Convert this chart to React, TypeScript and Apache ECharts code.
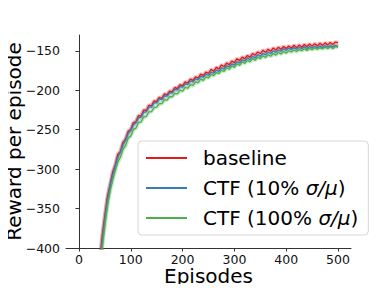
import React, { useEffect, useRef } from "react";
import * as echarts from "echarts";

const episodes = [
  40, 45, 50, 55, 60, 65, 70, 75, 80, 85, 90, 95, 100, 105, 110, 115, 120, 125, 130, 135,
  140, 145, 150, 155, 160, 165, 170, 175, 180, 185, 190, 195, 200, 205, 210, 215, 220, 225, 230, 235,
  240, 245, 250, 255, 260, 265, 270, 275, 280, 285, 290, 295, 300, 305, 310, 315, 320, 325, 330, 335,
  340, 345, 350, 355, 360, 365, 370, 375, 380, 385, 390, 395, 400, 405, 410, 415, 420, 425, 430, 435,
  440, 445, 450, 455, 460, 465, 470, 475, 480, 485, 490, 495, 500,
];

const baseline = [
  -418, -384, -359, -335, -320, -304, -295, -281, -278, -266, -262, -252, -250, -241, -240, -232, -233, -225, -226, -219,
  -220, -213.5, -214.5, -209, -210.5, -204.5, -206, -201, -202, -196.5, -198, -193, -194.5, -189.5, -191, -186, -187.5, -183, -184.5, -179.5,
  -181.5, -177, -178.5, -173.5, -176, -171, -173, -168, -170, -165.5, -167.5, -163, -165, -160, -162.5, -158, -160, -156, -158, -153.5,
  -155.5, -151.5, -153.5, -149.5, -152, -148, -150.5, -146.5, -149, -145.5, -148, -144.5, -147, -144, -146.5, -143, -146, -142.5, -145.5, -142,
  -144.5, -141.5, -144, -141, -143.5, -140.5, -143, -140, -142.5, -139.5, -142, -139, -140,
];

const ctf10 = [
  -425, -390, -362, -339, -321, -308, -296, -285, -278, -269, -263, -255, -251, -244, -241, -235, -234, -228, -227, -221.5,
  -221, -216, -216, -211, -212, -207, -207.5, -203, -203.5, -199, -199.5, -195.5, -196, -192, -192.5, -188.5, -189.5, -185.5, -186.5, -182.5,
  -183.5, -179.5, -181, -177, -178.5, -174.5, -176, -171.5, -173, -169, -170.5, -166.5, -168, -164, -165.5, -161.5, -163, -159, -161, -157,
  -159, -155, -157, -153.5, -155, -151.5, -153.5, -150, -152, -149, -150.5, -147.5, -149.5, -146.5, -148.5, -146, -148, -145.5, -147.5, -145,
  -147, -144.5, -146.5, -144.5, -146, -144, -146, -143.5, -145.5, -143.5, -145, -143.5, -144.5,
];

const ctf100 = [
  -432, -398, -370, -346, -328, -314, -302, -291, -285, -275, -270, -261, -258, -250, -248, -241, -240, -234, -233, -227.5,
  -227, -222, -221.5, -217, -217, -212, -212.5, -208, -208.5, -204, -204.5, -200, -201, -196.5, -197.5, -193, -194, -189.5, -190.5, -186,
  -187.5, -183, -184.5, -180, -181.5, -177.5, -179, -174.5, -176, -171.5, -173.5, -169, -171, -166.5, -168.5, -164, -166, -162, -164, -160,
  -162, -158, -160, -156.5, -158.5, -155, -157, -153.5, -155.5, -152, -154, -151, -153, -150, -151.5, -149, -151, -148.5, -150, -147.5,
  -149.5, -147, -148.5, -146.5, -148, -146, -147.5, -145.5, -147, -145, -147, -144.5, -145.5,
];

const seriesNames = ["baseline", "CTF (10% σ/μ)", "CTF (100% σ/μ)"];
const seriesData = [baseline, ctf10, ctf100];
const seriesColors = ["#e41a1c", "#377eb8", "#4daf4a"];
const xTicks = [0, 100, 200, 300, 400, 500];
const yTicks = [-400, -350, -300, -250, -200, -150];

const FONT = "DejaVu Sans";
const minus = (v: number) => String(v).replace("-", "\u2212");

export default function App() {
  const ref = useRef<HTMLDivElement>(null);
  useEffect(() => {
    if (!ref.current) return;
    const chart = echarts.init(ref.current, undefined, { renderer: "svg" });
    const series: any[] = [];
    seriesNames.forEach((name, i) => {
      const pts = episodes.map((e, k) => [e, seriesData[i][k]]);
      series.push({
        name: name + " band",
        type: "line",
        data: pts,
        showSymbol: false,
        symbol: "none",
        color: seriesColors[i],
        lineStyle: { width: 4, opacity: 0.3, color: seriesColors[i] },
        silent: true,
        z: 2,
      });
      series.push({
        name,
        type: "line",
        data: pts,
        showSymbol: false,
        symbol: "none",
        color: seriesColors[i],
        lineStyle: { width: 1.3, color: seriesColors[i] },
        z: 3,
      });
    });
    chart.setOption({
      animation: false,
      textStyle: { fontFamily: FONT },
      grid: { left: 66, top: 35, right: 39, bottom: 44, containLabel: false, outerBoundsMode: "none" },
      xAxis: {
        type: "value",
        min: -25,
        max: 525,
        name: "Episodes",
        nameLocation: "middle",
        nameGap: 18,
        nameMoveOverlap: false,
        nameTextStyle: { fontSize: 20, color: "#000", fontFamily: FONT, verticalAlign: "top" },
        splitLine: { show: false },
        axisLine: { show: true, lineStyle: { color: "#333", width: 1 } },
        axisTick: { show: true, inside: false, length: 3.5, customValues: xTicks, lineStyle: { color: "#333" } },
        axisLabel: {
          customValues: xTicks,
          fontSize: 12.5,
          color: "#111",
          margin: 5,
          fontFamily: FONT,
          formatter: (v: number) => minus(v),
        },
      },
      yAxis: {
        type: "value",
        min: -400,
        max: -130,
        name: "Reward per episode",
        nameLocation: "middle",
        nameRotate: 90,
        nameGap: 42,
        nameMoveOverlap: false,
        nameTextStyle: { fontSize: 20, color: "#000", fontFamily: FONT, verticalAlign: "bottom" },
        splitLine: { show: false },
        axisLine: { show: true, lineStyle: { color: "#333", width: 1 } },
        axisTick: { show: true, inside: false, length: 3.5, customValues: yTicks, lineStyle: { color: "#333" } },
        axisLabel: {
          customValues: yTicks,
          fontSize: 12.5,
          color: "#111",
          margin: 6,
          fontFamily: FONT,
          formatter: (v: number) => minus(v),
        },
      },
      legend: {
        orient: "vertical",
        left: 138,
        top: 141,
        padding: [7, 10, 7, 8],
        itemGap: 10,
        itemWidth: 41,
        itemHeight: 2,
        icon: "rect",
        backgroundColor: "rgba(255,255,255,0.85)",
        borderColor: "#d6d6d6",
        borderWidth: 1,
        borderRadius: 4,
        data: seriesNames,
        formatter: (name: string) => {
          const m = name.match(/^(.*?)(σ\/μ)(\))$/);
          if (m) return `{n|${m[1]}}{i|${m[2]}}{n|${m[3]}}`;
          return `{n|${name}}`;
        },
        textStyle: {
          fontSize: 20,
          color: "#000",
          fontFamily: FONT,
          padding: [0, 0, 0, 11],
          rich: {
            n: { fontSize: 20, fontFamily: FONT, color: "#000", lineHeight: 20 },
            i: { fontSize: 20, fontFamily: FONT, fontStyle: "italic", color: "#000", lineHeight: 20 },
          },
        },
      },
      series,
    });
    return () => chart.dispose();
  }, []);
  return <div ref={ref} style={{ width: 390, height: 292, margin: -8 }} />;
}
